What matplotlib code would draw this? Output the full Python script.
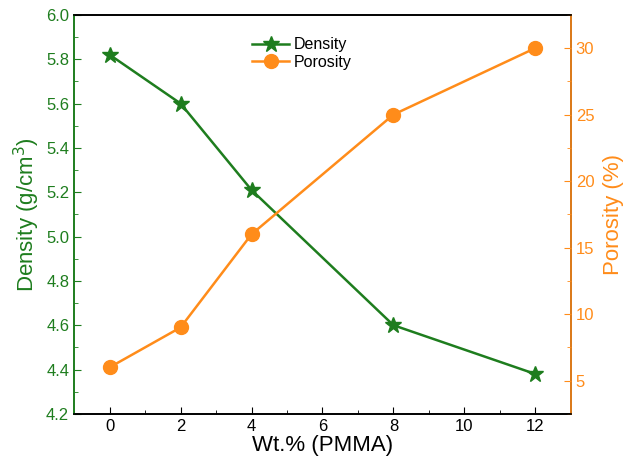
import matplotlib.pyplot as plt
from matplotlib.ticker import MultipleLocator

plt.rcParams['font.family'] = ['Liberation Sans', 'DejaVu Sans']

wt_pmma = [0, 2, 4, 8, 12]
density = [5.82, 5.60, 5.21, 4.60, 4.38]
porosity = [6, 9, 16, 25, 30]

GREEN = '#1e7d1e'
ORANGE = '#ff8c1a'

fig, ax = plt.subplots(figsize=(6.28, 4.63), dpi=100)
fig.subplots_adjust(left=0.118, right=0.909, top=0.968, bottom=0.106)
ax2 = ax.twinx()

l1, = ax.plot(wt_pmma, density, color=GREEN, marker='*', markersize=12,
              linewidth=1.8, label='Density')
l2, = ax2.plot(wt_pmma, porosity, color=ORANGE, marker='o', markersize=10,
               linewidth=1.8, label='Porosity')

ax.set_xlim(-1, 13)
ax.set_ylim(4.2, 6.0)
ax2.set_ylim(2.5, 32.5)

ax.xaxis.set_major_locator(MultipleLocator(2))
ax.xaxis.set_minor_locator(MultipleLocator(1))
ax.yaxis.set_major_locator(MultipleLocator(0.2))
ax.yaxis.set_minor_locator(MultipleLocator(0.1))
ax2.yaxis.set_major_locator(MultipleLocator(5))
ax2.yaxis.set_minor_locator(MultipleLocator(2.5))

ax.tick_params(axis='both', which='both', direction='in', labelsize=12)
ax.tick_params(axis='both', which='major', length=5)
ax.tick_params(axis='both', which='minor', length=3)
ax.tick_params(axis='y', which='both', colors=GREEN)
ax2.tick_params(axis='y', which='both', direction='in', colors=ORANGE, labelsize=12)
ax2.tick_params(axis='y', which='major', length=5)
ax2.tick_params(axis='y', which='minor', length=3)

ax.spines['left'].set_color(GREEN)
ax2.spines['left'].set_color(GREEN)
ax2.spines['right'].set_color(ORANGE)
for a in (ax, ax2):
    for s in a.spines.values():
        s.set_linewidth(1.2)

ax.set_xlabel('Wt.% (PMMA)', fontsize=16, labelpad=1)
ax.set_ylabel('Density (g/cm$^3$)', fontsize=16, color=GREEN, labelpad=3)
ax2.set_ylabel('Porosity (%)', fontsize=16, color=ORANGE, labelpad=6)

ax.legend(handles=[l1, l2], loc='upper left', bbox_to_anchor=(0.33, 0.98),
          frameon=False, fontsize=11.5, handlelength=2.3, labelspacing=0.15,
          handletextpad=0.3)

plt.savefig('out.png', dpi=100)
